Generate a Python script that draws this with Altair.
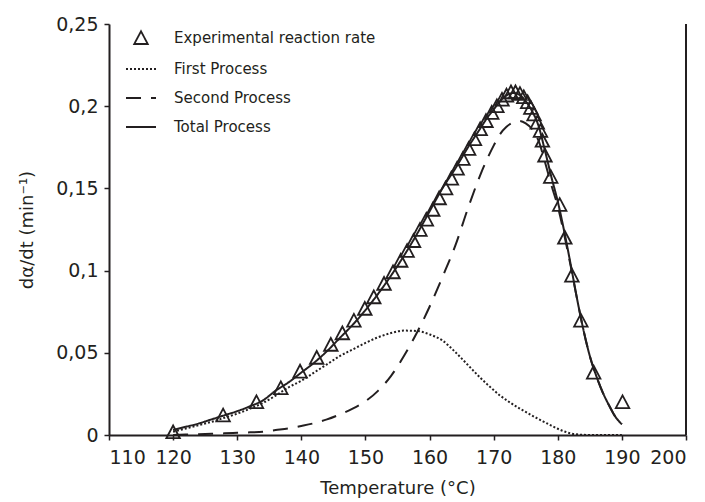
import altair as alt
import pandas as pd

# ---------------- data ----------------
series_names = ["Experimental reaction rate", "First Process", "Second Process", "Total Process"]

exp_T = [120.0, 127.8, 133.0, 136.8, 139.8, 142.4, 144.6, 146.4, 148.2, 149.9,
         151.3, 152.9, 154.3, 155.5, 156.5, 157.5, 158.5, 159.5, 160.5, 161.5,
         162.5, 163.4, 164.3, 165.2, 166.1, 167.0, 167.9, 168.8, 169.7, 170.5,
         171.3, 172.0, 172.7, 173.4, 174.1, 174.7, 175.3, 175.8, 176.3, 176.8,
         177.3, 177.6, 178.0, 178.9, 180.3, 181.1, 182.2, 183.6, 185.6, 190.1]
exp_rate = [0.0017, 0.0119, 0.020, 0.0285, 0.0386, 0.047, 0.0549, 0.0619, 0.0696, 0.0768,
            0.0838, 0.092, 0.099, 0.106, 0.112, 0.118, 0.1248, 0.131, 0.137, 0.144,
            0.150, 0.156, 0.162, 0.168, 0.174, 0.180, 0.186, 0.191, 0.196, 0.200,
            0.204, 0.2065, 0.2085, 0.2085, 0.2075, 0.2055, 0.2025, 0.199, 0.195, 0.190,
            0.185, 0.179, 0.170, 0.157, 0.140, 0.120, 0.097, 0.0696, 0.038, 0.020]

line_T = [120, 122, 124, 126, 128, 130, 132, 134, 136, 138, 140, 142, 144, 146, 148,
          150, 152, 154, 156, 158, 160, 162, 164, 166, 168, 169, 170, 171, 172, 173,
          174, 175, 176, 177, 178, 179, 180, 181, 182, 183, 184, 185, 186, 187, 188,
          189, 190]
first_proc = [0.002, 0.004, 0.006, 0.008, 0.0105, 0.013, 0.016, 0.0195, 0.024, 0.029,
              0.033, 0.038, 0.043, 0.048, 0.052, 0.056, 0.0595, 0.062, 0.0635, 0.0633,
              0.0612, 0.0575, 0.0505, 0.0425, 0.0345, 0.0308, 0.0273, 0.024, 0.0212, 0.0186,
              0.0162, 0.014, 0.0118, 0.0097, 0.0077, 0.0057, 0.0038, 0.0022, 0.001, 0.0004,
              0.0001, 0.0, 0.0, 0.0, 0.0, 0.0, 0.0]
second_proc = [0.0, 0.0003, 0.0005, 0.0008, 0.001, 0.0013, 0.0016, 0.002, 0.003, 0.004,
               0.0055, 0.0072, 0.0095, 0.0125, 0.016, 0.0205, 0.027, 0.036, 0.048, 0.062,
               0.078, 0.096, 0.115, 0.138, 0.159, 0.168, 0.176, 0.183, 0.1875, 0.190,
               0.191, 0.1895, 0.186, 0.179, 0.166, 0.152, 0.139, 0.122, 0.103, 0.083,
               0.064, 0.048, 0.036, 0.026, 0.018, 0.011, 0.0065]
total_proc = [0.003, 0.005, 0.007, 0.0095, 0.012, 0.0145, 0.0175, 0.021, 0.027, 0.032,
              0.038, 0.044, 0.051, 0.059, 0.067, 0.076, 0.086, 0.097, 0.109, 0.122,
              0.136, 0.150, 0.162, 0.175, 0.187, 0.193, 0.198, 0.203, 0.2065, 0.208,
              0.207, 0.203, 0.197, 0.188, 0.173, 0.157, 0.142, 0.124, 0.104, 0.083,
              0.064, 0.048, 0.036, 0.026, 0.018, 0.011, 0.0065]

x_ticks = [110, 120, 130, 140, 150, 160, 170, 180, 190, 200]
y_ticks = [0, 0.05, 0.1, 0.15, 0.2, 0.25]

# ---------------- tables ----------------
pts = pd.DataFrame({"T": exp_T, "rate": exp_rate, "series": series_names[0]})
lines = pd.concat(
    [pd.DataFrame({"T": line_T, "rate": vals, "series": name})
     for name, vals in zip(series_names[1:], [first_proc, second_proc, total_proc])],
    ignore_index=True,
)

# ---------------- style ----------------
INK = "#231f20"
FONT = "DejaVu Sans"
TRI = "M0,-0.45L0.45,0.4L-0.45,0.4Z"
STROKE = "M-1,0L1,0"

legend = alt.Legend(
    title=None, orient="none", legendX=16, legendY=-2,
    labelFont=FONT, labelFontSize=15, labelColor=INK, labelOffset=17, labelLimit=400,
    rowPadding=5, padding=0, symbolSize=900, symbolStrokeWidth=1.8,
    symbolStrokeColor=INK, symbolFillColor="transparent", symbolOpacity=1,
)

shape_scale = alt.Scale(domain=series_names, range=[TRI, STROKE, STROKE, STROKE])
dash_scale = alt.Scale(domain=series_names, range=[[1, 0], [2, 2], [15, 10], [1, 0]])

x = alt.X("T:Q", scale=alt.Scale(domain=[110, 200], nice=False, zero=False),
          axis=alt.Axis(values=x_ticks, title="Temperature (°C)", format="d",
                        labelPadding=8, titleY=58, titleBaseline="alphabetic"))
y = alt.Y("rate:Q", scale=alt.Scale(domain=[0, 0.25], nice=False),
          axis=alt.Axis(values=y_ticks, title="dα/dt (min⁻¹)",
                        labelExpr="replace(format(datum.value, '.2~f'), '.', ',')",
                        labelPadding=6, titleX=-77, titleBaseline="alphabetic"))

line_layer = alt.Chart(lines).mark_line(color=INK, strokeWidth=2, interpolate="monotone").encode(
    x=x, y=y,
    strokeDash=alt.StrokeDash("series:N", scale=dash_scale, legend=legend),
)

point_layer = alt.Chart(pts).mark_point(filled=False, color=INK, strokeWidth=1.8, size=900, opacity=1).encode(
    x=x, y=y,
    shape=alt.Shape("series:N", scale=shape_scale, legend=legend),
)

spine = alt.Chart(pts).mark_rule(color=INK, strokeWidth=2).encode(
    x=alt.datum(200), y=alt.datum(0), y2=alt.datum(0.25)
)

chart = (
    alt.layer(line_layer, point_layer, spine)
    .properties(
        width=577, height=411,
        autosize=alt.AutoSizeParams(type="none"),
        padding={"left": 101, "top": 16, "right": 10, "bottom": 66},
    )
    .configure_view(stroke=None)
    .configure_axis(
        grid=False, domainColor=INK, domainWidth=2, tickColor=INK, tickWidth=1.5, tickSize=5,
        labelFont=FONT, labelFontSize=19, labelColor=INK,
        titleFont=FONT, titleFontSize=18, titleColor=INK, titleFontWeight="normal",
    )
)

chart.save("out.html", embed_options={"renderer": "svg", "actions": False})
